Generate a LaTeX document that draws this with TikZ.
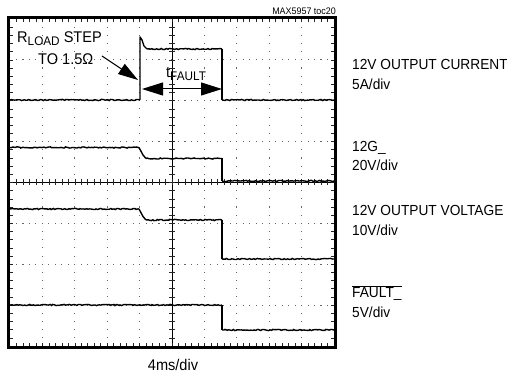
\documentclass[tikz,border=0pt]{standalone}
\usepackage{fontspec}
\setmainfont{Liberation Sans}[FakeStretch=0.94]
\usetikzlibrary{arrows.meta,decorations.pathmorphing}
\tikzset{
  lbl/.style={inner sep=0pt,anchor=base west,font=\fontsize{14.6}{16}\selectfont},
  inlbl/.style={inner sep=0pt,anchor=base west,font=\fontsize{15.5}{17}\selectfont},
  trace/.style={line width=1.4pt,black},
  noisy/.style={trace,decorate,decoration={random steps,segment length=1.6pt,amplitude=0.6pt}},
  gdot/.style={fill=black!60},
  tick/.style={line width=0.6pt,black!85},
  bigtip/.tip={Triangle[length=20pt,width=12pt]},
  fatip/.tip={Triangle[length=21pt,width=13pt]},
}
\begin{document}
\begin{tikzpicture}[x=1pt,y=-1pt]
\useasboundingbox (0,0) rectangle (507,379);
\fill[white] (0,0) rectangle (507,379);
\pgfmathsetseed{4242}
% dotted grid
\foreach \j in {1,2,3,5,6,7}{
  \foreach \i in {1,...,49}{
    \fill[gdot] ({10+\i*6.48-0.55},{19+\j*40.875-0.55}) rectangle +(1.1,1.1);}}
\foreach \k in {1,2,3,4,6,7,8,9}{
  \foreach \i in {1,...,39}{
    \fill[gdot] ({10+\k*32.4-0.55},{19+\i*8.175-0.55}) rectangle +(1.1,1.1);}}
% center cross with ticks
\draw[line width=0.8pt] (10,182.5) -- (334,182.5);
\draw[line width=0.8pt] (172,19) -- (172,346);
\foreach \i in {1,...,49}{
  \draw[tick] ({10+\i*6.48},179.5) -- ({10+\i*6.48},185.5);
  \draw[tick] ({10+\i*6.48},19) -- ({10+\i*6.48},22);
  \draw[tick] ({10+\i*6.48},346) -- ({10+\i*6.48},343);}
\foreach \i in {1,...,39}{
  \draw[tick] (169,{19+\i*8.175}) -- (175,{19+\i*8.175});
  \draw[tick] (10,{19+\i*8.175}) -- (13,{19+\i*8.175});
  \draw[tick] (334,{19+\i*8.175}) -- (331,{19+\i*8.175});}
% frame
\draw[line width=3pt] (8.5,17.5) rectangle (335.5,347.5);
% trace 1: output current
\draw[noisy] (10,100) -- (140,100);
\draw[trace,line join=round] (140,100) -- (140,37) -- (142,40) -- (144,46) -- (147,49);
\draw[noisy] (147,49) -- (222,49);
\draw[trace] (222,49) -- (222,100);
\draw[noisy] (222,100) -- (334,100);
% trace 2: 12G_
\draw[noisy] (10,147.5) -- (139,147.5);
\draw[trace,line join=round] (139,147.5) -- (143,155) -- (146,158.5);
\draw[noisy] (146,158.5) -- (222,158.5);
\draw[trace] (222,158.5) -- (222,181);
\draw[noisy] (222,181) -- (334,181);
% trace 3: output voltage
\draw[noisy] (10,209) -- (139,209);
\draw[trace,line join=round] (139,209) -- (143,216.5) -- (146,220);
\draw[noisy] (146,220) -- (222,220);
\draw[trace] (222,220) -- (222,259);
\draw[noisy] (222,259) -- (334,259);
% trace 4: FAULT
\draw[noisy] (10,305) -- (222,305);
\draw[trace] (222,305) -- (222,330);
\draw[noisy] (222,330) -- (334,330);
% annotations
\node[inlbl] (rload) at (17,43) {R\raisebox{-2.8pt}{\fontsize{12.5}{13}\selectfont LOAD} STEP};
\node[inlbl] (to15) at (38,65) {TO 1.5\symbol{"03A9}};
\coordinate (rtail) at (102,56);
\coordinate (rtip) at (138,80);
\draw[line width=1pt,-bigtip] (rtail) -- (rtip);
\node[inlbl] (tfault) at (166,78) {t\raisebox{-2.8pt}{\fontsize{12.5}{13}\selectfont FAULT}};
\coordinate (fl) at (142,89);
\coordinate (fr) at (222,89);
\draw[line width=1pt,fatip-fatip] (fl) -- (fr);
\node[inner sep=0pt,anchor=base east,font=\fontsize{9.5}{10}\selectfont] (title) at (336,14.5) {MAX5957 toc20};
% right labels
\node[lbl] (l1a) at (352,70) {12V OUTPUT CURRENT};
\node[lbl] (l1b) at (352,89.5) {5A/div};
\node[lbl] (l2a) at (352,152) {12G\_};
\node[lbl] (l2b) at (352,171) {20V/div};
\node[lbl] (l3a) at (352,216) {12V OUTPUT VOLTAGE};
\node[lbl] (l3b) at (352,236) {10V/div};
\node[lbl] (l4a) at (352,298) {$\overline{\mbox{FAULT\_}}$};
\node[lbl] (l4b) at (352,318) {5V/div};
\node[inner sep=0pt,anchor=base,font=\fontsize{15.5}{17}\selectfont] (xdiv) at (173,371) {4ms/div};
\end{tikzpicture}
\end{document}
